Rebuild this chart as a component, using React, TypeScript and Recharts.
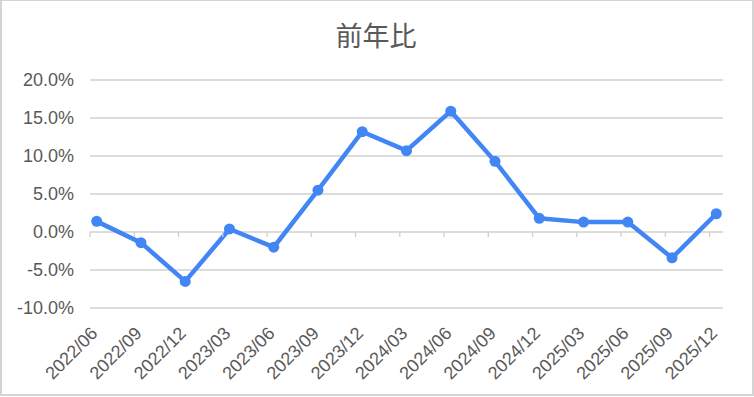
import React from 'react';
import { LineChart, Line, XAxis, YAxis, CartesianGrid } from 'recharts';

const categories = [
  '2022/06', '2022/09', '2022/12', '2023/03', '2023/06', '2023/09', '2023/12', '2024/03',
  '2024/06', '2024/09', '2024/12', '2025/03', '2025/06', '2025/09', '2025/12',
];
const yoyValues = [1.4, -1.4, -6.5, 0.4, -2.0, 5.5, 13.2, 10.7, 15.9, 9.3, 1.8, 1.3, 1.3, -3.4, 2.4];
const yTicks = [-10, -5, 0, 5, 10, 15, 20];
const title = '前年比';

const data = categories.map((c, i) => ({ name: c, value: yoyValues[i] }));

const W = 754;
const H = 397;
const M_TOP = 80;
const M_RIGHT = 31;
const X_AXIS_H = 80;
const M_BOTTOM = 9;
const Y_AXIS_W = 90;
const PLOT_BOTTOM = H - M_BOTTOM - X_AXIS_H;
const Y_MIN = -10;
const Y_MAX = 20;
const ZERO_Y = M_TOP + ((Y_MAX - 0) / (Y_MAX - Y_MIN)) * (PLOT_BOTTOM - M_TOP);

const TEXT = '#595959';
const GRID = '#d0d0d0';
const BLUE = '#4285F4';
const FONT = '"Liberation Sans", Arial, sans-serif';

const XTick = (props: any) => {
  const { x, payload } = props;
  const tx = x + 2;
  const ty = PLOT_BOTTOM + 26.5;
  return (
    <g>
      <line x1={x - 6.7} x2={x - 6.7} y1={ZERO_Y} y2={ZERO_Y + 5} stroke={GRID} strokeWidth={1.3} />
      <text
        x={tx}
        y={ty}
        textAnchor="end"
        fill={TEXT}
        fontSize={18}
        fontFamily={FONT}
        transform={`rotate(-45, ${tx}, ${ty})`}
      >
        {payload.value}
      </text>
    </g>
  );
};

export default function App() {
  return (
    <div style={{ position: 'absolute', left: 0, top: 0, width: W, height: H, background: '#fff' }}>
      <div
        style={{
          position: 'absolute',
          left: 0,
          top: 0,
          width: 750,
          height: 393,
          border: '1px solid #d4d4d4',
          borderLeftWidth: 2,
          borderRightWidth: 2,
          borderBottomWidth: 2,
        }}
      />
      <div
        style={{
          position: 'absolute',
          left: 0,
          top: 16,
          width: 752,
          textAlign: 'center',
          fontFamily: '"Noto Sans CJK JP", sans-serif',
          fontSize: 27,
          lineHeight: '38px',
          color: TEXT,
        }}
      >
        {title}
      </div>
      <div style={{ position: 'absolute', left: 0, top: 0 }}>
        <LineChart
          width={W}
          height={H}
          data={data}
          margin={{ top: M_TOP, right: M_RIGHT, bottom: M_BOTTOM, left: 0 }}
        >
          <CartesianGrid vertical={false} stroke={GRID} strokeWidth={1.3} />
          <XAxis
            dataKey="name"
            axisLine={false}
            tickLine={false}
            height={X_AXIS_H}
            padding={{ left: 6.7, right: 6.7 }}
            interval={0}
            tick={<XTick />}
          />
          <YAxis
            width={Y_AXIS_W}
            domain={[Y_MIN, Y_MAX]}
            ticks={yTicks}
            axisLine={false}
            tickLine={false}
            tickSize={6}
            tickMargin={10}
            tickFormatter={(v: number) => `${v.toFixed(1)}%`}
            tick={{ fill: TEXT, fontSize: 18, fontFamily: FONT }}
          />
          <Line
            type="linear"
            dataKey="value"
            stroke={BLUE}
            strokeWidth={4.5}
            dot={{ r: 5.5, fill: BLUE, stroke: BLUE, strokeWidth: 0 }}
            activeDot={false}
            isAnimationActive={false}
          />
        </LineChart>
      </div>
    </div>
  );
}
